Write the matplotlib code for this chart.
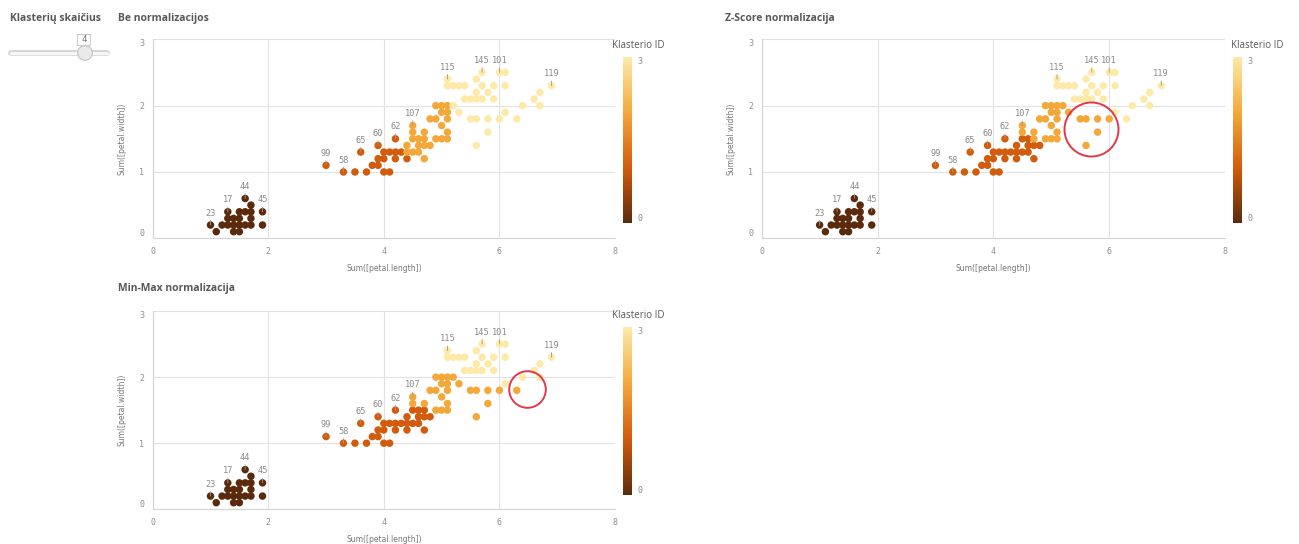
import numpy as np
import matplotlib
matplotlib.use("Agg")
import matplotlib.pyplot as plt
from matplotlib.colors import LinearSegmentedColormap, Normalize
from matplotlib.cm import ScalarMappable
from matplotlib.patches import Circle, Rectangle

# unique (petal.length, petal.width) points of the iris data
petal_length = [1.0, 1.1, 1.2, 1.3, 1.3, 1.3, 1.4, 1.4, 1.4, 1.5, 1.5, 1.5, 1.5, 1.6, 1.6, 1.6,
                1.7, 1.7, 1.7, 1.7, 1.9, 1.9,
                3.0, 3.3, 3.5, 3.6, 3.7, 3.8, 3.9, 3.9, 3.9, 4.0, 4.0, 4.0, 4.1, 4.1, 4.2, 4.2,
                4.2, 4.3, 4.4, 4.4, 4.4, 4.5, 4.5, 4.5, 4.5, 4.6, 4.6, 4.6, 4.7, 4.7, 4.7, 4.7,
                4.8, 4.8, 4.9, 5.0, 5.1,
                4.9, 4.9, 5.0, 5.0, 5.0, 5.1, 5.1, 5.1, 5.1, 5.1, 5.1, 5.2, 5.2, 5.3, 5.3, 5.4,
                5.4, 5.5, 5.5, 5.6, 5.6, 5.6, 5.6, 5.6, 5.7, 5.7, 5.7, 5.8, 5.8, 5.8, 5.9, 5.9,
                6.0, 6.0, 6.1, 6.1, 6.1, 6.3, 6.4, 6.6, 6.7, 6.7, 6.9]
petal_width = [0.2, 0.1, 0.2, 0.2, 0.3, 0.4, 0.1, 0.2, 0.3, 0.1, 0.2, 0.3, 0.4, 0.2, 0.4, 0.6,
               0.2, 0.3, 0.4, 0.5, 0.2, 0.4,
               1.1, 1.0, 1.0, 1.3, 1.0, 1.1, 1.1, 1.2, 1.4, 1.0, 1.2, 1.3, 1.0, 1.3, 1.2, 1.3,
               1.5, 1.3, 1.2, 1.3, 1.4, 1.3, 1.5, 1.6, 1.7, 1.3, 1.4, 1.5, 1.2, 1.4, 1.5, 1.6,
               1.4, 1.8, 1.5, 1.7, 1.6,
               1.8, 2.0, 1.5, 1.9, 2.0, 1.5, 1.8, 1.9, 2.0, 2.3, 2.4, 2.0, 2.3, 1.9, 2.3, 2.1,
               2.3, 1.8, 2.1, 1.4, 1.8, 2.1, 2.2, 2.4, 2.1, 2.3, 2.5, 1.6, 1.8, 2.2, 2.1, 2.3,
               1.8, 2.5, 1.9, 2.3, 2.5, 1.8, 2.0, 2.1, 2.0, 2.2, 2.3]

# cluster ID of each point for the three normalisation variants
cluster_raw = [0] * 22 + [1] * 19 + [2] * 18 + [2] * 9 + [3] * 34
cluster_zscore = ([0] * 22 + [1] * 19 + [1, 1, 1, 1, 2, 2, 1, 1, 1, 1, 1, 2, 2, 1, 2, 2, 2, 2]
                  + [2] * 9 + [3, 3]
                  + [2, 3, 2, 3, 3, 3, 2, 3, 2, 2, 3, 3, 3, 3, 3, 3, 2, 2, 3, 3, 3,
                     2, 3, 3, 3, 3, 3, 3, 3, 3, 3, 3])
cluster_minmax = ([0] * 22 + [1] * 19 + [1, 1, 1, 1, 2, 2, 1, 1, 1, 1, 1, 1, 2, 1, 2, 2, 2, 2]
                  + [2] * 9 + [3, 3]
                  + [2, 3, 2, 3, 3, 3, 2, 3, 2, 2, 3, 3, 3, 3, 3, 3, 2, 2, 3, 3, 3,
                     2, 3, 3, 3, 3, 2, 3, 3, 3, 3, 3])

label_ids = ["23", "17", "44", "45", "99", "58", "65", "60", "62", "107", "115", "145", "101", "119"]
label_x = [1.0, 1.3, 1.6, 1.9, 3.0, 3.3, 3.6, 3.9, 4.2, 4.5, 5.1, 5.7, 6.0, 6.9]
label_y = [0.2, 0.4, 0.6, 0.4, 1.1, 1.0, 1.3, 1.4, 1.5, 1.7, 2.4, 2.5, 2.5, 2.3]

cmap = LinearSegmentedColormap.from_list("klast", ["#5b2a0d", "#d25c0c", "#f4a83a", "#fdeaa9"])
norm = Normalize(0, 3)

W, H = 1299, 544
fig = plt.figure(figsize=(W / 100, H / 100), dpi=100)

def px(x0, y0, x1, y1):
    # pixel box -> figure fraction rect
    return [x0 / W, 1 - y1 / H, (x1 - x0) / W, (y1 - y0) / H]

bg = fig.add_axes([0, 0, 1, 1], zorder=10)
bg.set_xlim(0, W)
bg.set_ylim(H, 0)
bg.axis("off")

TITLE = dict(fontsize=7.5, fontweight="bold", color="#595959", family="Open Sans", va="center")
bg.text(10, 18, "Klasterių skaičius", **TITLE)
bg.text(118, 18, "Be normalizacijos", **TITLE)
bg.text(725, 18, "Z-Score normalizacija", **TITLE)
bg.text(118, 289, "Min-Max normalizacija", **TITLE)

# slider
bg.plot([11, 107], [52.7, 52.7], color="#cfcfcf", lw=4, solid_capstyle="round")
bg.plot([11, 107], [52.7, 52.7], color="#f6f6f6", lw=2.4, solid_capstyle="round")
bg.add_patch(Circle((85, 53), 7.3, fc="#eaeaea", ec="#c8c8c8", lw=0.9, zorder=3))
bg.add_patch(Rectangle((77, 34), 13.5, 10.5, fc="white", ec="#cccccc", lw=0.8, zorder=3))
bg.text(83.7, 39.5, "4", fontsize=6.5, color="#777777", ha="center", va="center",
        family="DejaVu Sans Mono", zorder=4)

def scatter_panel(rect, clusters, legend_rect, legend_title_xy, circle=None):
    ax = fig.add_axes(rect)
    ax.set_facecolor("none")
    ax.scatter(petal_length, petal_width, c=clusters, cmap=cmap, norm=norm, s=29,
               linewidths=0, zorder=3)
    ax.set_xlim(0, 8)
    ax.set_ylim(0, 3)
    ax.set_xticks([0, 2, 4, 6, 8])
    ax.set_yticks([0, 1, 2, 3])
    ax.set_xticklabels(["0", "2", "4", "6", "8"])
    ax.set_yticklabels(["0", "1", "2", "3"])
    ax.grid(True, color="#e2e2e2", lw=0.8)
    ax.set_axisbelow(True)
    for s in ["top", "right"]:
        ax.spines[s].set_visible(False)
    for s in ["left", "bottom"]:
        ax.spines[s].set_color("#d4d4d4")
        ax.spines[s].set_linewidth(0.8)
    ax.tick_params(length=0, labelsize=6, labelcolor="#909090", pad=6)
    for t in ax.get_xticklabels() + ax.get_yticklabels():
        t.set_family("DejaVu Sans Mono")
    ylab = ax.get_yticklabels()
    ylab[0].set_va("bottom")
    ylab[-1].set_va("top")
    ax.set_xlabel("Sum([petal.length])", fontsize=5.5, color="#777777", labelpad=6)
    ax.set_ylabel("Sum([petal.width])", fontsize=5.5, color="#777777", labelpad=9)

    for lid, lx, ly in zip(label_ids, label_x, label_y):
        ax.annotate(lid, xy=(lx, ly), xytext=(0, 8.6), textcoords="offset points",
                    ha="center", va="center", fontsize=6.2, color="#8a8a8a",
                    family="DejaVu Sans Mono", zorder=4,
                    arrowprops=dict(arrowstyle="-", color="#9a9a9a", lw=0.6,
                                    shrinkA=0, shrinkB=3.6))
    if circle is not None:
        cx, cy, r = circle
        ax.plot([cx], [cy], marker="o", ms=2 * r * 0.72, mfc="none", mec="#e0394a",
                mew=1.4, zorder=5, clip_on=False)

    cax = fig.add_axes(legend_rect)
    cb = fig.colorbar(ScalarMappable(norm=norm, cmap=cmap), cax=cax)
    cb.outline.set_visible(False)
    cb.set_ticks([0, 3])
    cb.set_ticklabels(["0", "3"])
    cax.tick_params(length=0, labelsize=6, labelcolor="#8a8a8a", pad=4)
    for t in cax.get_yticklabels():
        t.set_family("DejaVu Sans Mono")
    cl = cax.get_yticklabels()
    cl[0].set_va("bottom")
    cl[1].set_va("top")
    bg.text(legend_title_xy[0], legend_title_xy[1], "Klasterio ID", fontsize=7,
            color="#595959", family="Open Sans", va="center")
    return ax

scatter_panel(px(152.7, 39.3, 615, 238.3), cluster_raw,
              px(623, 57, 632, 223), (612, 45))
scatter_panel(px(761.7, 39.3, 1225, 238.3), cluster_zscore,
              px(1233, 57, 1242, 223), (1231, 45), circle=(5.69, 1.65, 27))
scatter_panel(px(152.7, 311, 615, 509.3), cluster_minmax,
              px(623, 327, 632, 495), (612, 316), circle=(6.47, 1.82, 18.3))

fig.savefig("out.png", dpi=100)
